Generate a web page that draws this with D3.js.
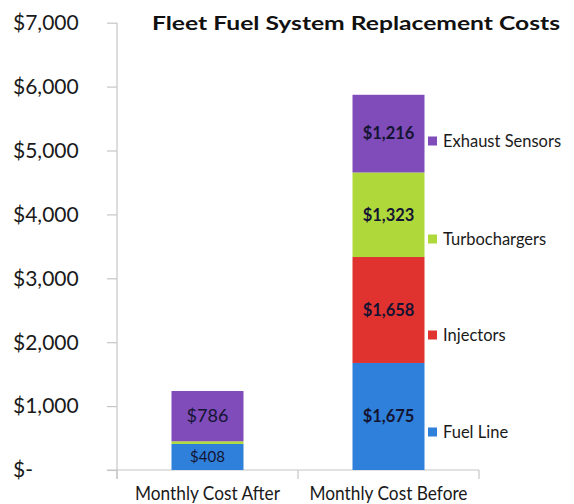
<!DOCTYPE html>
<html>
<head>
<meta charset="utf-8">
<script src="https://cdn.jsdelivr.net/npm/d3@7"></script>
<style>
  html, body { margin: 0; padding: 0; background: #fff; }
  svg { display: block; }
  text { font-family: Lato, "Open Sans", sans-serif; }
</style>
</head>
<body>
<div id="chart"></div>
<script>
const categories = ["Monthly Cost After", "Monthly Cost Before"];
const seriesNames = ["Fuel Line", "Injectors", "Turbochargers", "Exhaust Sensors"];
const fuelLine = [408, 1675];
const injectors = [0, 1658];
const turbochargers = [42, 1323];
const exhaustSensors = [786, 1216];
const yTicks = [0, 1000, 2000, 3000, 4000, 5000, 6000, 7000];
const yTickLabels = ["$-", "$1,000", "$2,000", "$3,000", "$4,000", "$5,000", "$6,000", "$7,000"];
const colors = ["#2f80da", "#e0322f", "#afd83b", "#7f4cb9"];
const title = "Fleet Fuel System Replacement Costs";

const W = 574, H = 504;
const svg = d3.select("#chart").append("svg").attr("width", W).attr("height", H);

const x = d3.scaleBand().domain(categories).range([117, 479]).paddingInner(0).paddingOuter(0);
const y = d3.scaleLinear().domain([0, 7000]).range([470, 22.7]);

const seriesValues = [fuelLine, injectors, turbochargers, exhaustSensors];
const rows = categories.map((c, i) => {
  const r = { cat: c };
  seriesNames.forEach((s, j) => r[s] = seriesValues[j][i]);
  return r;
});
const stacked = d3.stack().keys(seriesNames)(rows);

// Y axis
const yAxis = d3.axisLeft(y).tickValues(yTicks).tickSize(10).tickFormat("");
const gy = svg.append("g").attr("transform", "translate(117,0)").call(yAxis);
gy.selectAll("path, line").attr("stroke", "#c6c6c6").attr("stroke-width", 1.2);
gy.select("path").attr("d", `M0,${y(7000)}V${y(0)+9}`);
svg.append("g").selectAll("text").data(yTicks).join("text")
  .attr("x", 13).attr("y", d => y(d)).attr("dy", "0.35em")
  .attr("font-size", 21).attr("fill", "#1a1a1a")
  .text((d, i) => yTickLabels[i]);

// X axis line and boundary ticks
svg.append("line").attr("x1", 107).attr("x2", 479).attr("y1", y(0)).attr("y2", y(0))
  .attr("stroke", "#c6c6c6").attr("stroke-width", 1.2);
const boundaries = [x(categories[0]), x(categories[1]), x(categories[1]) + x.bandwidth()];
svg.append("g").selectAll("line").data(boundaries).join("line")
  .attr("x1", d => d).attr("x2", d => d).attr("y1", y(0)).attr("y2", y(0) + 9)
  .attr("stroke", "#c6c6c6").attr("stroke-width", 1.2);

// X labels
const xLabelWidths = [145, 158];
svg.append("g").selectAll("text").data(categories).join("text")
  .attr("x", d => x(d) + x.bandwidth() / 2).attr("y", 500)
  .attr("text-anchor", "middle").attr("font-size", 20).attr("fill", "#1a1a1a")
  .attr("font-family", "Roboto, sans-serif")
  .attr("textLength", (d, i) => xLabelWidths[i]).attr("lengthAdjust", "spacingAndGlyphs")
  .text(d => d);

// Bars
const barW = 72;
const layers = svg.append("g").selectAll("g").data(stacked).join("g")
  .attr("fill", (d, i) => colors[i]);
layers.selectAll("rect").data(d => d).join("rect")
  .attr("x", d => x(d.data.cat) + x.bandwidth() / 2 - barW / 2)
  .attr("width", barW)
  .attr("y", d => y(d[1]))
  .attr("height", d => y(d[0]) - y(d[1]));

// Data labels
const labelData = [];
stacked.forEach((s, i) => s.forEach(d => {
  const v = d[1] - d[0];
  if (v >= 300) labelData.push({ cat: d.data.cat, v, mid: (d[0] + d[1]) / 2, small: d.data.cat === categories[0] && v < 500 });
}));
svg.append("g").selectAll("text").data(labelData).join("text")
  .attr("x", d => x(d.cat) + x.bandwidth() / 2)
  .attr("y", d => y(d.mid)).attr("dy", "0.35em")
  .attr("text-anchor", "middle")
  .attr("font-size", d => d.cat === categories[0] ? (d.small ? 15 : 18) : 16.5)
  .attr("font-weight", d => d.cat === categories[1] ? 700 : 400)
  .attr("fill", "#141432")
  .text(d => "$" + d3.format(",")(d.v));

// Legend
const legendY = [432, 335, 239, 141];
const lg = svg.append("g").selectAll("g").data(seriesNames).join("g")
  .attr("transform", (d, i) => `translate(428,${legendY[i]})`);
lg.append("rect").attr("x", 0).attr("y", -4.5).attr("width", 9).attr("height", 9)
  .attr("fill", (d, i) => colors[i]);
lg.append("text").attr("x", 15).attr("y", 0).attr("dy", "0.35em")
  .attr("font-size", 16.5).attr("fill", "#1a1a1a").text(d => d);

// Title
svg.append("text").attr("x", 152).attr("y", 23).attr("dy", "0.35em")
  .attr("font-size", 19).attr("font-weight", 700).attr("fill", "#111")
  .attr("textLength", 408).attr("lengthAdjust", "spacingAndGlyphs")
  .text(title);
</script>
</body>
</html>
